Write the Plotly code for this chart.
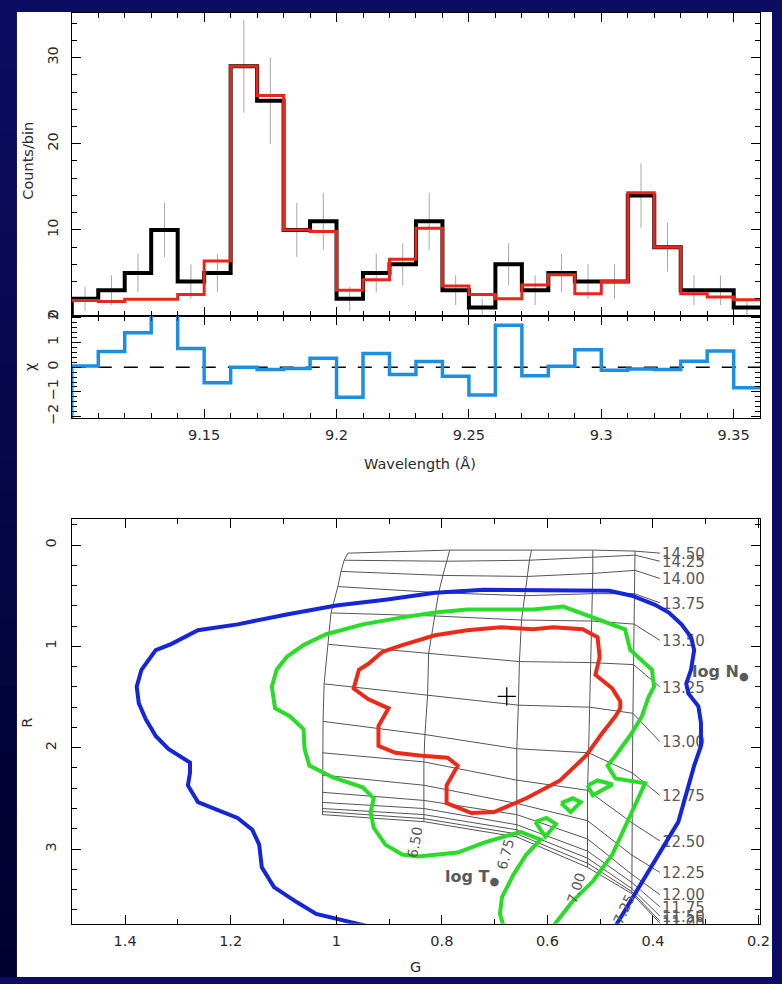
import plotly.graph_objects as go

W, H = 782, 984
FONT = "DejaVu Sans"
INK = "#2b2b2b"
GRID_INK = "#555555"

# ---------------- spectrum (counts per bin) ----------------
wave_edges = [9.10, 9.11, 9.12, 9.13, 9.14, 9.15, 9.16, 9.17, 9.18, 9.19, 9.20,
              9.21, 9.22, 9.23, 9.24, 9.25, 9.26, 9.27, 9.28, 9.29, 9.30,
              9.31, 9.32, 9.33, 9.34, 9.35, 9.36]
counts_obs = [2, 3, 5, 10, 4, 5, 29, 25, 10, 11, 2, 5, 6, 11, 3, 1,
              6, 3, 5, 4, 4, 14, 8, 3, 3, 1]
counts_err = [1.41, 1.73, 2.24, 3.16, 2.00, 2.24, 5.39, 5.00, 3.16, 3.32, 1.41,
              2.24, 2.45, 3.32, 1.73, 1.00, 2.45, 1.73, 2.24, 2.00, 2.00,
              3.74, 2.83, 1.73, 1.73, 1.00]
counts_model = [1.8, 1.7, 1.95, 1.95, 2.5, 6.4, 29.0, 25.6, 10.0, 9.8, 3.0,
                4.2, 6.6, 10.2, 3.5, 2.5, 2.0, 3.6, 4.8, 2.6, 4.0,
                14.3, 8.0, 2.6, 2.2, 1.9]
chi_resid = [0.05, 0.64, 1.40, 2.60, 0.76, -0.63, 0.00, -0.09, -0.05, 0.36,
             -1.22, 0.56, -0.29, 0.23, -0.37, -1.12, 1.70, -0.35, 0.04, 0.71,
             -0.12, -0.07, -0.09, 0.24, 0.66, -0.83]
obs_lead = 0.0      # level before the first bin
chi_lead = -3.0

wave_ticks = [9.15, 9.20, 9.25, 9.30, 9.35]
wave_ticktext = ["9.15", "9.2", "9.25", "9.3", "9.35"]

# ---------------- G-R diagnostic plane ----------------
grid_logN = ["11.00", "11.25", "11.50", "11.75", "12.00", "12.25", "12.50", "12.75",
             "13.00", "13.25", "13.50", "13.75", "14.00", "14.25", "14.50"]
grid_logT = ["6.25", "6.50", "6.75", "7.00", "7.25", "7.50"]
grid_G = [
    [1.026, 1.026, 1.026, 1.026, 1.026, 1.026, 1.026, 1.025, 1.023, 1.015, 1.010, 0.997, 0.991, 0.985, 0.978],
    [0.834, 0.834, 0.834, 0.834, 0.834, 0.834, 0.834, 0.832, 0.827, 0.825, 0.813, 0.806, 0.798, 0.791, 0.785],
    [0.658, 0.658, 0.658, 0.658, 0.658, 0.658, 0.658, 0.658, 0.655, 0.653, 0.649, 0.643, 0.638, 0.634, 0.630],
    [0.524, 0.524, 0.524, 0.524, 0.524, 0.524, 0.524, 0.522, 0.520, 0.518, 0.516, 0.514, 0.514, 0.514, 0.514],
    [0.440, 0.440, 0.440, 0.440, 0.440, 0.440, 0.440, 0.439, 0.438, 0.437, 0.436, 0.435, 0.434, 0.434, 0.434],
    [0.387, 0.387, 0.387, 0.387, 0.387, 0.387, 0.387, 0.387, 0.387, 0.387, 0.387, 0.387, 0.387, 0.387, 0.387],
]
grid_R = [
    [2.66, 2.63, 2.60, 2.54, 2.44, 2.27, 2.05, 1.74, 1.37, 0.98, 0.67, 0.41, 0.26, 0.15, 0.08],
    [2.73, 2.70, 2.66, 2.60, 2.52, 2.37, 2.14, 1.87, 1.48, 1.07, 0.70, 0.47, 0.30, 0.16, 0.05],
    [2.88, 2.85, 2.81, 2.76, 2.66, 2.55, 2.32, 2.01, 1.58, 1.15, 0.74, 0.50, 0.31, 0.15, 0.05],
    [3.18, 3.14, 3.09, 3.02, 2.90, 2.72, 2.42, 2.05, 1.60, 1.16, 0.75, 0.48, 0.28, 0.12, 0.05],
    [3.44, 3.42, 3.39, 3.33, 3.25, 3.06, 2.74, 2.25, 1.66, 1.18, 0.78, 0.48, 0.25, 0.10, 0.06],
    [3.73, 3.71, 3.66, 3.57, 3.45, 3.23, 2.92, 2.47, 1.94, 1.40, 0.94, 0.57, 0.33, 0.16, 0.08],
]
# temperature labels: text, G, R, angle
temp_labels = [("6.50", 0.851, 2.93, -80), ("6.75", 0.679, 3.05, -75),
               ("7.00", 0.546, 3.38, -72), ("7.25", 0.455, 3.59, -65)]

blue_G = [0.941, 0.982, 1.038, 1.075, 1.118, 1.141, 1.146, 1.159, 1.187, 1.262,
          1.281, 1.277, 1.277, 1.318, 1.342, 1.361, 1.374, 1.378, 1.369, 1.342,
          1.313, 1.262, 1.187, 1.094, 1.000, 0.907, 0.813, 0.720, 0.627, 0.514,
          0.483, 0.440, 0.397, 0.370, 0.346, 0.328, 0.322, 0.328, 0.337, 0.333,
          0.314, 0.309, 0.309, 0.322, 0.337, 0.352, 0.378, 0.408, 0.440, 0.471]
blue_R = [3.760, 3.708, 3.640, 3.523, 3.376, 3.181, 2.956, 2.810, 2.693, 2.537,
          2.372, 2.245, 2.147, 2.011, 1.884, 1.718, 1.562, 1.397, 1.231, 1.036,
          0.978, 0.841, 0.783, 0.685, 0.597, 0.539, 0.471, 0.442, 0.442, 0.442,
          0.451, 0.500, 0.588, 0.666, 0.783, 0.909, 1.036, 1.231, 1.367, 1.465,
          1.592, 1.757, 1.982, 2.177, 2.469, 2.732, 2.956, 3.220, 3.493, 3.760]

green_G = [0.683, 0.690, 0.686, 0.664, 0.640, 0.627, 0.613, 0.651, 0.720, 0.770,
           0.845, 0.875, 0.907, 0.929, 0.935, 0.929, 0.950, 1.006, 1.051, 1.060,
           1.062, 1.088, 1.116, 1.122, 1.113, 1.094, 1.062, 1.019, 0.950, 0.875,
           0.813, 0.752, 0.688, 0.627, 0.570, 0.514, 0.453, 0.443, 0.402, 0.398,
           0.408, 0.421, 0.440, 0.471, 0.486, 0.471, 0.415, 0.434, 0.453, 0.477,
           0.514, 0.552, 0.589]
green_R = [3.760, 3.640, 3.474, 3.249, 3.054, 2.976, 2.907, 2.830, 2.937, 3.034,
           3.074, 3.054, 2.956, 2.790, 2.635, 2.499, 2.391, 2.294, 2.177, 2.011,
           1.816, 1.689, 1.611, 1.397, 1.231, 1.104, 0.987, 0.880, 0.783, 0.714,
           0.666, 0.636, 0.636, 0.636, 0.607, 0.714, 0.831, 1.036, 1.231, 1.397,
           1.494, 1.689, 1.855, 2.079, 2.177, 2.303, 2.352, 2.567, 2.790, 3.054,
           3.318, 3.513, 3.760]
green_islands = [
    ([0.623, 0.602, 0.584, 0.604], [2.732, 2.693, 2.752, 2.878]),
    ([0.574, 0.552, 0.537, 0.556], [2.547, 2.499, 2.537, 2.635]),
    ([0.524, 0.505, 0.477, 0.514], [2.372, 2.323, 2.362, 2.469]),
]

red_G = [0.875, 0.813, 0.752, 0.688, 0.627, 0.589, 0.533, 0.505, 0.501, 0.509,
         0.477, 0.462, 0.462, 0.471, 0.496, 0.527, 0.576, 0.640, 0.701, 0.744,
         0.791, 0.791, 0.770, 0.789, 0.838, 0.888, 0.920, 0.920, 0.901, 0.939,
         0.967, 0.957, 0.939, 0.913]
red_R = [0.987, 0.890, 0.841, 0.812, 0.831, 0.812, 0.831, 0.909, 1.104, 1.280,
         1.416, 1.543, 1.611, 1.689, 1.855, 2.079, 2.323, 2.499, 2.635, 2.645,
         2.547, 2.372, 2.177, 2.099, 2.079, 2.050, 1.982, 1.787, 1.611, 1.523,
         1.416, 1.231, 1.172, 1.055]

best_fit = (0.677, 1.494)


# ---------------- helpers ----------------
def px_x(px):
    return px / W


def px_y(py):
    return 1 - py / H


def step_xy(edges, vals, lead=None):
    xs = list(edges)
    ys = list(vals) + [vals[-1]]
    if lead is not None:
        xs = [edges[0]] + xs
        ys = [lead] + ys
    return xs, ys


def closed(xs, ys):
    return list(xs) + [xs[0]], list(ys) + [ys[0]]


fig = go.Figure()

# error bars on the observed counts
centers = [(a + b) / 2 for a, b in zip(wave_edges[:-1], wave_edges[1:])]
ex, ey = [], []
for c, v, e in zip(centers, counts_obs, counts_err):
    ex += [c, c, None]
    ey += [v - e, v + e, None]
fig.add_trace(go.Scatter(x=ex, y=ey, mode="lines", line=dict(color="#a8a8a8", width=1),
                         xaxis="x", yaxis="y", hoverinfo="skip"))

sx, sy = step_xy(wave_edges, counts_obs, obs_lead)
fig.add_trace(go.Scatter(x=sx, y=sy, mode="lines", line=dict(color="black", width=4, shape="hv"),
                         xaxis="x", yaxis="y"))
mx, my = step_xy(wave_edges, counts_model)
fig.add_trace(go.Scatter(x=mx, y=my, mode="lines", line=dict(color="#e8261c", width=3, shape="hv"),
                         xaxis="x", yaxis="y"))

# residuals
fig.add_trace(go.Scatter(x=[wave_edges[0], wave_edges[-1]], y=[0, 0], mode="lines",
                         line=dict(color="black", width=1.3, dash="14px,12px"),
                         xaxis="x2", yaxis="y2", hoverinfo="skip"))
rx, ry = step_xy(wave_edges, chi_resid, chi_lead)
fig.add_trace(go.Scatter(x=rx, y=ry, mode="lines", line=dict(color="#1c8fe3", width=3.5, shape="hv"),
                         xaxis="x2", yaxis="y2"))

# model grid: lines of constant density
gx, gy = [], []
for j in range(len(grid_logN)):
    for i in range(len(grid_logT)):
        gx.append(grid_G[i][j])
        gy.append(grid_R[i][j])
    gx.append(None)
    gy.append(None)
# lines of constant temperature (last column only carries the labels)
for i in range(len(grid_logT) - 1):
    gx += grid_G[i] + [None]
    gy += grid_R[i] + [None]
fig.add_trace(go.Scatter(x=gx, y=gy, mode="lines", line=dict(color=GRID_INK, width=1),
                         xaxis="x3", yaxis="y3", hoverinfo="skip"))

# density labels at the grid edge
fig.add_trace(go.Scatter(x=[g - 0.004 for g in grid_G[-1]], y=[r + 0.02 for r in grid_R[-1]],
                         mode="text", text=grid_logN, textposition="middle right",
                         textfont=dict(family=FONT, size=15, color="#5a5a5a"),
                         xaxis="x3", yaxis="y3", hoverinfo="skip"))

# confidence contours
fig.add_trace(go.Scatter(x=blue_G, y=blue_R, mode="lines", line=dict(color="#1426d8", width=4),
                         xaxis="x3", yaxis="y3"))
fig.add_trace(go.Scatter(x=green_G, y=green_R, mode="lines", line=dict(color="#28dc28", width=4),
                         xaxis="x3", yaxis="y3"))
for ig, ir in green_islands:
    cx, cy = closed(ig, ir)
    fig.add_trace(go.Scatter(x=cx, y=cy, mode="lines", line=dict(color="#28dc28", width=4),
                             xaxis="x3", yaxis="y3"))
cx, cy = closed(red_G, red_R)
fig.add_trace(go.Scatter(x=cx, y=cy, mode="lines", line=dict(color="#ec2a1a", width=4),
                         xaxis="x3", yaxis="y3"))
fig.add_trace(go.Scatter(x=[best_fit[0]], y=[best_fit[1]], mode="markers",
                         marker=dict(symbol="cross-thin", size=13, line=dict(color="black", width=1.3)),
                         xaxis="x3", yaxis="y3"))

# ---------------- axes ----------------
XD = [px_x(72.7), px_x(770)]
tickfont = dict(family=FONT, size=14.5, color=INK)


def ax(**kw):
    base = dict(showline=True, linecolor="black", linewidth=1.2, mirror="ticks",
                ticks="inside", ticklen=9, tickwidth=1, tickcolor="black",
                showgrid=False, zeroline=False, tickfont=tickfont)
    base.update(kw)
    return base


def minor(dt, t0=0):
    return dict(ticks="inside", ticklen=5, tickwidth=1, tickcolor="black", dtick=dt, tick0=t0,
                showgrid=False)


fig.update_layout(
    xaxis=ax(domain=XD, range=[wave_edges[0], wave_edges[-1]], tickmode="array",
             tickvals=wave_ticks, showticklabels=False, minor=minor(0.01, 9.10), anchor="y"),
    yaxis=ax(domain=[px_y(314.9), px_y(8.3)], range=[0, 35.15], dtick=10, tick0=0,
             tickangle=-90, minor=minor(2), anchor="x", ticklabelstandoff=7),
    xaxis2=ax(domain=XD, range=[wave_edges[0], wave_edges[-1]], tickmode="array",
              tickvals=wave_ticks, ticktext=wave_ticktext,
              minor=minor(0.01, 9.10), anchor="y2", ticklabelstandoff=4),
    yaxis2=ax(domain=[px_y(418), px_y(314.9)], range=[-2.052, 2.072], dtick=1, tick0=0,
              tickangle=-90, minor=minor(0.2), anchor="x2", ticklabelstandoff=7),
    xaxis3=ax(domain=XD, range=[1.501, 0.197], dtick=0.2, tick0=0.2, minor=minor(0.1),
              anchor="y3", ticklabelstandoff=4),
    yaxis3=ax(domain=[px_y(930), px_y(520.7)], range=[3.736, -0.2534], dtick=1, tick0=0,
              tickangle=-90, minor=minor(0.2), anchor="x3", ticklabelstandoff=9),
)

# ---------------- page background ----------------
shapes = [dict(type="rect", xref="paper", yref="paper", x0=px_x(17), x1=1, y0=0, y1=px_y(7),
               fillcolor="white", line=dict(width=0), layer="below")]
n_band = 30
top_c, bot_c = (12, 12, 98), (0, 0, 46)
for k in range(n_band):
    f = k / (n_band - 1)
    col = tuple(round(a + (b - a) * f) for a, b in zip(top_c, bot_c))
    shapes.append(dict(type="rect", xref="paper", yref="paper", x0=0, x1=px_x(17),
                       y0=1 - (k + 1) / n_band, y1=1 - k / n_band,
                       fillcolor="rgb(%d,%d,%d)" % col, line=dict(width=0), layer="below"))

annotations = [
    dict(text="Counts/bin", x=px_x(28), y=px_y(158), textangle=-90),
    dict(text="χ", x=px_x(30), y=px_y(367), textangle=-90),
    dict(text="Wavelength (Å)", x=px_x(425), y=px_y(465)),
    dict(text="R", x=px_x(27), y=px_y(727), textangle=-90),
    dict(text="G", x=px_x(421), y=px_y(974)),
]
for a in annotations:
    a.update(xref="paper", yref="paper", showarrow=False, xanchor="center", yanchor="middle",
             font=dict(family=FONT, size=14.5, color=INK))

for txt, g, r, ang in temp_labels:
    annotations.append(dict(text=txt, x=g, y=r, xref="x3", yref="y3", showarrow=False,
                            textangle=ang, font=dict(family=FONT, size=14, color="#5a5a5a")))
annotations.append(dict(text="<b>log N<sub>●</sub></b>", x=0.272, y=1.26, xref="x3", yref="y3",
                        showarrow=False, font=dict(family=FONT, size=16, color="#5a5a5a")))
annotations.append(dict(text="<b>log T<sub>●</sub></b>", x=0.742, y=3.28, xref="x3", yref="y3",
                        showarrow=False, font=dict(family=FONT, size=16, color="#5a5a5a")))

fig.update_layout(
    width=W, height=H, margin=dict(l=0, r=0, t=0, b=0),
    paper_bgcolor="rgb(12,12,98)", plot_bgcolor="white",
    showlegend=False, shapes=shapes, annotations=annotations,
)

fig.write_html("out.html")
